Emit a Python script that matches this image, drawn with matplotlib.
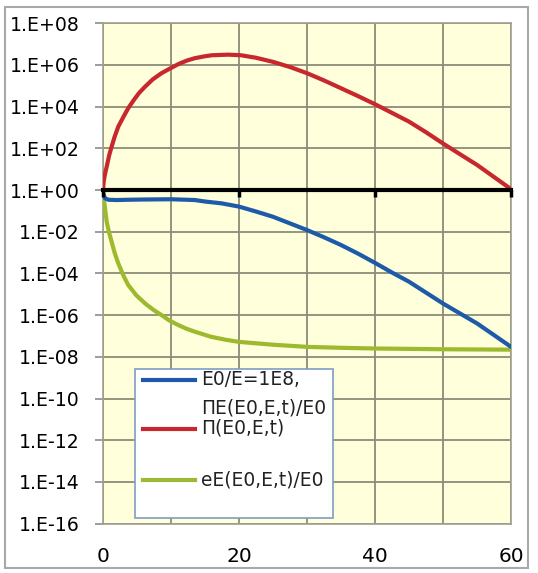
import matplotlib
matplotlib.use("Agg")
import matplotlib.pyplot as plt
from matplotlib.patches import Rectangle
from matplotlib.lines import Line2D
from matplotlib.ticker import NullLocator

# ---- data ----
t_red = [0, 0.1, 0.25, 0.54, 0.9, 1.27, 1.7, 2.25, 3.0, 3.7, 4.5, 5.3, 6.2, 7.3, 8.6, 10,
         11.1, 12.3, 13.5, 15, 16, 18.4, 20.3, 22.5, 25, 27.5, 30, 32.5, 35, 37.5, 40,
         42.5, 45, 47.5, 50, 52.5, 55, 57.5, 60]
red = [1.0, 2.5, 5.0, 1.3e1, 4.5e1, 1.2e2, 3.5e2, 1.1e3, 3.2e3, 8.3e3, 2.0e4, 4.5e4, 9.1e4,
       2.0e5, 4.0e5, 7.1e5, 1.1e6, 1.6e6, 2.1e6, 2.6e6, 2.9e6, 3.1e6, 2.9e6, 2.2e6, 1.4e6,
       7.9e5, 4.0e5, 1.8e5, 7.6e4, 3.2e4, 1.3e4, 5.0e3, 1.9e3, 5.9e2, 1.7e2, 5.2e1, 1.6e1,
       4.2, 1.1]

t_blue = [0, 0.3, 0.8, 2, 3.7, 6, 10, 13.5, 15, 17.4, 20, 22.5, 25, 27.5, 30, 32.5, 35,
          37.5, 40, 42.5, 45, 47.5, 50, 52.5, 55, 57.5, 60]
blue = [0.7, 0.4, 0.34, 0.33, 0.34, 0.35, 0.36, 0.33, 0.28, 0.23, 0.16, 9.3e-2, 5.2e-2,
        2.5e-2, 1.2e-2, 5.4e-3, 2.3e-3, 8.9e-4, 3.2e-4, 1.1e-4, 4.0e-5, 1.2e-5, 3.6e-6,
        1.2e-6, 4.0e-7, 1.1e-7, 3.0e-8]

t_green = [0, 0.15, 0.3, 0.54, 0.9, 1.27, 1.7, 2.25, 3.0, 3.7, 4.9, 6.2, 7.4, 8.6, 9.8,
           11.1, 12.3, 13.5, 15.9, 18, 20, 25, 30, 35, 40, 50, 60]
green = [1.0, 0.32, 0.13, 3.0e-2, 8.9e-3, 3.3e-3, 1.0e-3, 3.0e-4, 7.9e-5, 2.8e-5, 8.9e-6,
         3.6e-6, 1.8e-6, 1.0e-6, 5.4e-7, 3.3e-7, 2.2e-7, 1.6e-7, 9.1e-8, 6.6e-8, 5.2e-8,
         3.8e-8, 3.0e-8, 2.7e-8, 2.5e-8, 2.3e-8, 2.2e-8]

ytick_vals = [1e8, 1e6, 1e4, 1e2, 1e0, 1e-2, 1e-4, 1e-6, 1e-8, 1e-10, 1e-12, 1e-14, 1e-16]
ytick_labels = ["1.E+08", "1.E+06", "1.E+04", "1.E+02", "1.E+00", "1.E-02", "1.E-04",
                "1.E-06", "1.E-08", "1.E-10", "1.E-12", "1.E-14", "1.E-16"]
xtick_vals = [0, 20, 40, 60]
xtick_labels = ["0", "20", "40", "60"]
xgrid_minor = [10, 30, 50]

legend_labels = ["E0/E=1E8,", "\u03a0E(E0,E,t)/E0", "\u03a0(E0,E,t)", "eE(E0,E,t)/E0"]

# ---- style ----
C_RED = "#C8282D"
C_BLUE = "#1E5AAA"
C_GREEN = "#9DB92E"
C_BG = "#FFFFDB"
C_GRID = "#8C8C78"

W, H = 538, 573
fig = plt.figure(figsize=(W / 100, H / 100), dpi=100)
plt.rcParams['font.family'] = ['DejaVu Sans']

# outer chart border
fig.patches.append(Rectangle((5 / W, 1 - 568 / H), (528 - 5) / W, (568 - 7) / H,
                             transform=fig.transFigure, fill=False,
                             edgecolor="#A8A8A8", lw=1.5))

L, R, T, B = 103, 511, 23.2, 523.6
ax = fig.add_axes([L / W, 1 - B / H, (R - L) / W, (B - T) / H])
ax.set_facecolor(C_BG)
ax.set_yscale("log")
ax.set_xlim(0, 60)
ax.set_ylim(1e-16, 1e8)

ax.set_yticks(ytick_vals, ytick_labels)
ax.yaxis.set_minor_locator(NullLocator())
ax.set_xticks(xtick_vals, xtick_labels)
ax.set_xticks(xgrid_minor, minor=True)
ax.tick_params(axis="y", which="major", labelsize=13.6, length=6, width=1.2,
               color="#8C8C8C", pad=10.5, direction="out")
ax.tick_params(axis="x", which="both", labelsize=14.5, length=0, pad=17)
ax.grid(True, which="both", axis="x", color=C_GRID, lw=1.3)
ax.grid(True, which="major", axis="y", color=C_GRID, lw=1.3)
ax.set_axisbelow(True)
for s in ax.spines.values():
    s.set_color("#A0A090")
    s.set_linewidth(1.2)

kw = dict(lw=3, solid_capstyle="round", solid_joinstyle="round")
ax.plot(t_red, red, color=C_RED, zorder=4, **kw)
ax.plot(t_blue, blue, color=C_BLUE, zorder=4, **kw)
ax.plot(t_green, green, color=C_GREEN, zorder=3, **kw)

# horizontal axis crossing at 1E+00 (16 of 24 decades above the bottom)
sec = ax.secondary_xaxis(16 / 24)
sec.set_alignment("bottom")
sec.set_xticks(xtick_vals)
sec.tick_params(axis="x", length=5, width=2.5, color="black", labelbottom=False,
                labeltop=False, direction="out")
for s in sec.spines.values():
    s.set_color("black")
    s.set_linewidth(3)
sec.set_zorder(5)

# legend drawn as a box in axes coordinates
def ax_xy(px, py):
    return (px - L) / (R - L), (B - py) / (B - T)

x0, y0 = ax_xy(135, 518)
x1, y1 = ax_xy(333, 369)
ax.add_patch(Rectangle((x0, y0), x1 - x0, y1 - y0, transform=ax.transAxes,
                       facecolor="white", edgecolor="#7F9CC6", lw=1.2, zorder=10))
entries = [(C_BLUE, 379.5, [(legend_labels[0], 379.5), (legend_labels[1], 408.5)]),
           (C_RED, 428.5, [(legend_labels[2], 428.5)]),
           (C_GREEN, 479.5, [(legend_labels[3], 479.5)])]
for col, hy, texts in entries:
    hx0, hyy = ax_xy(143, hy)
    hx1, _ = ax_xy(195, hy)
    ax.add_line(Line2D([hx0, hx1], [hyy, hyy], transform=ax.transAxes, color=col,
                       lw=3, zorder=11))
    for txt, ty in texts:
        tx, tyy = ax_xy(201, ty)
        ax.text(tx, tyy, txt, transform=ax.transAxes, fontsize=13.4, va="center",
                ha="left", color="#222222", zorder=12)

fig.savefig("out.png", dpi=100)
